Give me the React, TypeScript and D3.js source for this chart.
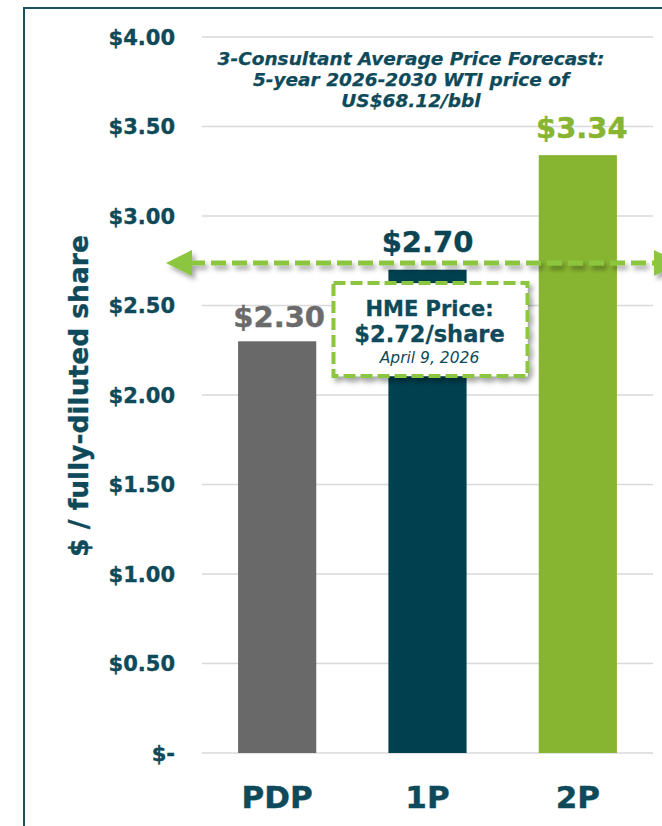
import React from "react";
import * as d3 from "d3";

const categories = ["PDP", "1P", "2P"];
const values = [2.3, 2.7, 3.34];
const valueLabels = ["$2.30", "$2.70", "$3.34"];
const barColors = ["#696969", "#00404f", "#88b531"];
const labelColors = ["#6b6b6b", "#0b4553", "#88b531"];
const yTicks = [0, 0.5, 1, 1.5, 2, 2.5, 3, 3.5, 4];
const yTickLabels = ["$-", "$0.50", "$1.00", "$1.50", "$2.00", "$2.50", "$3.00", "$3.50", "$4.00"];
const hmePrice = 2.72;
const titleLines = [
  "3-Consultant Average Price Forecast:",
  "5-year 2026-2030 WTI price of",
  "US$68.12/bbl",
];
const boxLines = ["HME Price:", "$2.72/share", "April 9, 2026"];

const W = 662;
const H = 826;
const TEAL = "#0e4a59";
const GREEN = "#8cc63f";
const FONT = "'DejaVu Sans', Verdana, sans-serif";

export default function App() {
  const x = d3.scaleBand<string>().domain(categories).range([202, 653]).paddingInner(0.48).paddingOuter(0.24);
  const y = d3.scaleLinear().domain([0, 4]).range([753, 37]);
  const bw = x.bandwidth();
  const yArrow = y(hmePrice) - 3;
  const boxCx = (x("1P") as number) + bw / 2 + 3;
  const boxW = 194;
  const boxTop = yArrow + 20;
  const boxH = 93;

  return (
    <svg width={W} height={H} style={{ position: "absolute", left: 0, top: 0, background: "#fff" }} fontFamily={FONT}>
      <defs>
        <filter id="sh" x="-20%" y="-50%" width="140%" height="200%">
          <feDropShadow dx="3" dy="4" stdDeviation="2.5" floodColor="#000" floodOpacity="0.35" />
        </filter>
      </defs>
      <rect x={24} y={8} width={720} height={900} fill="none" stroke="#1a5060" strokeWidth={2} />
      {yTicks.map((t) => (
        <line key={t} x1={202} x2={653} y1={y(t)} y2={y(t)} stroke="#d9d9d9" strokeWidth={1.5} />
      ))}
      {yTicks.map((t, i) => (
        <text key={"l" + t} x={175} y={y(t)} dy="0.36em" textAnchor="end" fontSize={21} fontWeight="bold" fill={TEAL} stroke={TEAL} strokeWidth={0.35}>
          {yTickLabels[i]}
        </text>
      ))}
      <text
        transform={`translate(78,${396}) rotate(-90)`}
        textAnchor="middle"
        dy="0.36em"
        fontSize={26.5}
        fontWeight="bold"
        fill={TEAL}
        stroke={TEAL}
        strokeWidth={0.35}
      >
        $ / fully-diluted share
      </text>
      {categories.map((c, i) => (
        <rect key={c} x={x(c)} y={y(values[i])} width={bw} height={y(0) - y(values[i])} fill={barColors[i]} />
      ))}
      {categories.map((c) => (
        <text key={"c" + c} x={(x(c) as number) + bw / 2} y={797} dy="0.36em" textAnchor="middle" fontSize={31} fontWeight="bold" fill={TEAL} stroke={TEAL} strokeWidth={0.4}>
          {c}
        </text>
      ))}
      {categories.map((c, i) => (
        <text
          key={"v" + c}
          x={(x(c) as number) + bw / 2 + (i === 0 ? 2 : i === 2 ? 4 : 0)}
          y={y(values[i]) - (i === 0 ? 25 : 28)}
          dy="0.36em"
          textAnchor="middle"
          fontSize={29}
          fontWeight="bold"
          fill={labelColors[i]}
          stroke={labelColors[i]}
          strokeWidth={0.4}
        >
          {valueLabels[i]}
        </text>
      ))}
      {titleLines.map((l, i) => (
        <text key={"t" + i} x={411} y={58 + i * 21} dy="0.36em" textAnchor="middle" fontSize={18.5} fontWeight="bold" fontStyle="italic" fill={TEAL} stroke={TEAL} strokeWidth={0.25}>
          {l}
        </text>
      ))}
      <g filter="url(#sh)">
        <line x1={190} x2={656} y1={yArrow} y2={yArrow} stroke={GREEN} strokeWidth={5} strokeDasharray="15 6" />
        <path d={`M166,${yArrow} L192,${yArrow - 13} L192,${yArrow + 13} Z`} fill={GREEN} />
        <path d={`M680,${yArrow} L654,${yArrow - 13} L654,${yArrow + 13} Z`} fill={GREEN} />
      </g>
      <rect
        x={boxCx - boxW / 2}
        y={boxTop}
        width={boxW}
        height={boxH}
        fill="#fff"
        stroke={GREEN}
        strokeWidth={4}
        strokeDasharray="12 5"
        filter="url(#sh)"
      />
      <text x={boxCx - 1} y={boxTop + 25} dy="0.36em" textAnchor="middle" fontSize={21} fontWeight="bold" fill={TEAL} stroke={TEAL} strokeWidth={0.3}>
        {boxLines[0]}
      </text>
      <text x={boxCx - 1} y={boxTop + 51} dy="0.36em" textAnchor="middle" fontSize={22.5} fontWeight="bold" fill={TEAL} stroke={TEAL} strokeWidth={0.3}>
        {boxLines[1]}
      </text>
      <text x={boxCx - 1} y={boxTop + 74} dy="0.36em" textAnchor="middle" fontSize={15.5} fontStyle="italic" fill={TEAL}>
        {boxLines[2]}
      </text>
    </svg>
  );
}
